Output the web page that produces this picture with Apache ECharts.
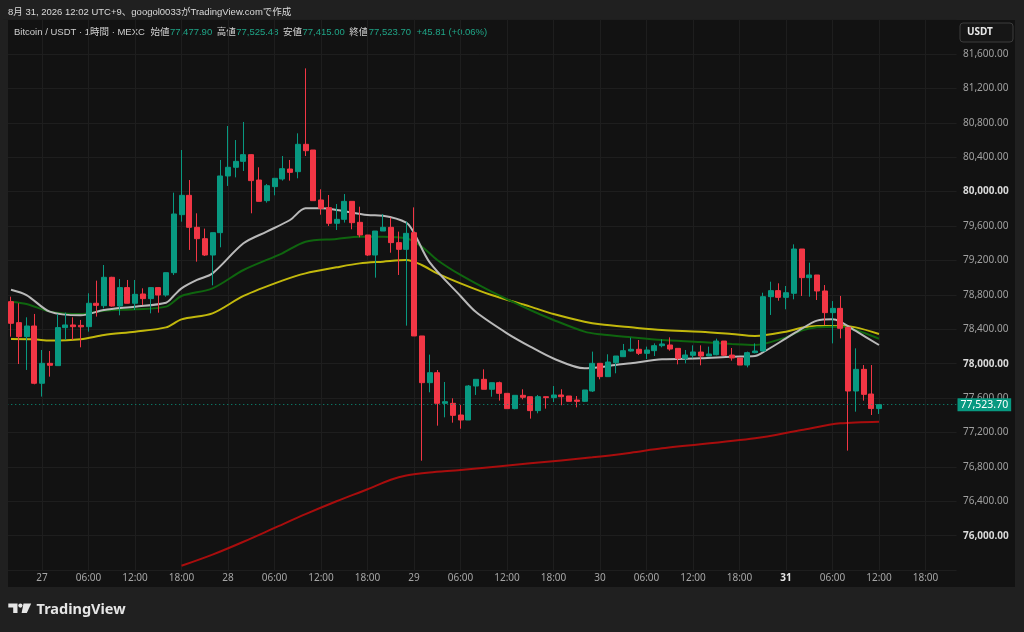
<!DOCTYPE html>
<html><head><meta charset="utf-8">
<script src="https://cdn.jsdelivr.net/npm/echarts@6/dist/echarts.min.js"></script>
<style>html,body{margin:0;padding:0;background:#202020;}#c{width:1024px;height:632px;}</style>
</head><body><div id="c"></div>
<script>
// ---- time axis: hourly categories, first slot = 26日 19:00, last = 31日 22:00
const firstDay = 26, firstHour = 19, slotCount = 124;
const categories = [];
for (let i = 0; i < slotCount; i++) {
  const t = firstHour + i;
  const d = firstDay + Math.floor(t / 24);
  const hr = t % 24;
  categories.push(d + ' ' + String(hr).padStart(2, '0') + ':00');
}
const candleStart = '26 20:00';

// ---- hourly OHLC, from 26 20:00 to 31 12:00
const opens = [78721,78477,78314,78438,77772,78004,77977,78419,78450,78445,78430,78702,78674,79004,78670,78884,78702,78810,78756,78884,78798,79058,79732,79957,79585,79453,79263,79523,80182,80283,80352,80430,80135,79895,80058,80147,80263,80232,80550,80484,79903,79814,79632,79678,79887,79643,79496,79263,79542,79585,79407,79329,79523,78322,77779,77895,77539,77539,77403,77345,77740,77818,77702,77779,77655,77477,77632,77616,77454,77616,77605,77636,77624,77577,77562,77682,78004,77849,78011,78081,78147,78167,78120,78151,78209,78217,78178,78062,78097,78135,78089,78104,78263,78100,78066,77984,78128,78147,78779,78849,78771,78818,79333,79000,79031,78845,78593,78643,78422,77682,77934,77647,77477.90];
const highs = [78779,78702,78539,78578,78159,78147,78578,78593,78539,78508,78818,78965,79147,79010,78984,78973,78973,78876,78884,78890,79058,79988,80484,80135,79748,79570,79523,80368,80763,80600,80810,80435,80283,80089,80155,80414,80368,80678,81433,80484,80027,79961,79856,79972,79887,79825,79496,79542,79740,79697,79535,79651,79817,78322,78105,77926,77787,77597,77520,77752,77818,77934,77779,77791,77655,77632,77702,77616,77636,77616,77740,77702,77624,77624,77694,78140,78004,78109,78089,78229,78302,78275,78198,78236,78283,78306,78178,78159,78213,78213,78198,78291,78263,78182,78066,78140,78236,78825,78953,78934,78903,79387,79333,79174,79031,78914,78728,78787,78422,78178,77984,77984,77525.48];
const lows = [78314,77996,77927,77760,77617,77849,77977,78275,78275,78190,78372,78547,78643,78663,78562,78700,78624,78682,78585,78593,78779,79031,79651,79322,79186,79252,78911,79353,80066,80166,80240,79748,79887,79872,79957,80128,80128,80155,80414,79895,79732,79601,79554,79640,79562,79469,79252,79000,79542,79290,79031,78442,78322,76872,77667,77279,77376,77314,77244,77345,77636,77702,77616,77570,77477,77470,77585,77361,77423,77477,77554,77516,77562,77492,77554,77671,77818,77849,77888,78081,78140,78101,78054,78089,78190,78151,77992,78004,78062,77981,78089,78097,78089,78035,77984,77957,78120,78140,78566,78732,78632,78748,78787,78779,78740,78449,78236,78294,76989,77442,77570,77403,77415.00];
const closes = [78469,78314,78438,77772,78004,77981,78419,78450,78430,78428,78702,78678,79004,78670,78884,78702,78806,78756,78884,78798,79058,79740,79957,79585,79453,79263,79523,80182,80283,80352,80430,80128,79887,80069,80155,80267,80224,80550,80476,79895,79806,79632,79678,79887,79639,79496,79263,79542,79585,79407,79329,79515,78322,77779,77895,77539,77558,77399,77345,77740,77818,77702,77779,77655,77477,77632,77609,77454,77616,77605,77636,77616,77562,77562,77694,78004,77849,78019,78089,78151,78167,78120,78159,78209,78229,78170,78062,78101,78136,78089,78112,78263,78097,78066,77984,78128,78147,78779,78849,78771,78825,79333,79000,79031,78845,78593,78643,78411,77682,77934,77643,77478,77523.70];

// ---- moving-average readings: [hour offset from 27 00:00, price]
const maWhite = [[-4,78860],[-2,78798],[1,78605],[5,78562],[8,78624],[12,78663],[16,78709],[17,78790],[18,78876],[20,78973],[22,79050],[26,79399],[29,79535],[32,79670],[34,79806],[36,79806],[38,79787],[42,79728],[44,79720],[47,79640],[48,79520],[50,79180],[54,78787],[56,78600],[60,78353],[63,78198],[66,78060],[70,77946],[72,77960],[74,77985],[76,78004],[80,78050],[85,78062],[89,78081],[92,78089],[93,78130],[96,78294],[98,78405],[100,78500],[102,78515],[103,78488],[105,78380],[108,78217]];
const maGreen = [[-4,78721],[-2,78694],[1,78605],[5,78577],[8,78616],[12,78632],[16,78663],[18,78787],[22,78876],[26,79089],[31,79283],[34,79418],[38,79450],[41,79476],[44,79476],[47,79457],[49,79360],[51,79205],[54,79031],[58,78837],[63,78624],[66,78508],[70,78372],[72,78341],[76,78306],[80,78275],[85,78252],[89,78229],[92,78217],[96,78306],[98,78384],[100,78422],[103,78430],[105,78391],[108,78290]];
const maYellow = [[-4,78287],[-1,78283],[1,78268],[5,78283],[8,78333],[12,78372],[16,78422],[18,78515],[22,78585],[26,78787],[31,78965],[34,79050],[38,79120],[41,79166],[44,79186],[47,79205],[49,79147],[51,79050],[54,78934],[58,78798],[63,78663],[66,78577],[70,78488],[72,78457],[76,78422],[80,78391],[85,78372],[89,78345],[92,78322],[96,78372],[98,78418],[100,78438],[103,78438],[105,78422],[108,78345]];
const maRed = [[18,75650],[22,75780],[26,75930],[30,76090],[34,76250],[38,76400],[42,76540],[45,76650],[47,76700],[50,76735],[54,76764],[63,76841],[71,76911],[76,76965],[80,77016],[92,77132],[98,77229],[103,77306],[108,77326]];

const lastPrice = 77523.70;
const symbolText = 'Bitcoin / USDT · 1時間 · MEXC';
const ohlcLabels = ['始値', '高値', '安値', '終値'];
const ohlcValues = ['77,477.90', '77,525.48', '77,415.00', '77,523.70'];
const changeText = '+45.81 (+0.06%)';
const headerText = '8月 31, 2026 12:02 UTC+9、googol0033がTradingView.comで作成';

// ---- build
const startIdx = categories.indexOf(candleStart);
const zeroIdx = categories.indexOf('27 00:00');
const candleData = categories.map((c, i) => {
  const k = i - startIdx;
  if (k < 0 || k >= opens.length) return '-';
  return [opens[k], closes[k], lows[k], highs[k]];
});
const toLine = arr => arr.map(p => [p[0] + zeroIdx, p[1]]);
const fmt = v => v.toLocaleString('en-US', {minimumFractionDigits: 2, maximumFractionDigits: 2});
const hourOf = c => parseInt(c.split(' ')[1], 10);
const showTick = (i, c) => hourOf(c) % 6 === 0;

const FONT = '"Noto Sans", "Noto Sans CJK JP", sans-serif';
const UIFONT = '"Liberation Sans", "Noto Sans CJK JP", sans-serif';
const LEGEND_FONT = '9.5px ' + UIFONT;
const chart = echarts.init(document.getElementById('c'));

// measure legend pieces so they flow without overlapping
const mctx = document.createElement('canvas').getContext('2d');
mctx.font = LEGEND_FONT;
const tw = s => mctx.measureText(s).width;

const graphics = [
  {type: 'rect', shape: {x: 8, y: 20, width: 1007, height: 567}, style: {fill: '#121212'}, z: -100, silent: true},
  {type: 'rect', shape: {x: 0, y: 20, width: 8, height: 567}, style: {fill: '#202020'}, z: 100, silent: true},
  {type: 'text', x: 8, y: 12, style: {text: headerText, fill: '#dadada', font: '9.5px ' + UIFONT, textVerticalAlign: 'middle'}},
  {type: 'rect', shape: {x: 960, y: 23, width: 53, height: 19, r: 3}, style: {fill: '#161616', stroke: '#3c3c3c', lineWidth: 1}, z: 50},
  {type: 'text', x: 967, y: 32.5, z: 51, style: {text: 'USDT', fill: '#e8e8e8', font: 'bold 10px ' + FONT, textVerticalAlign: 'middle'}},
  // logo
  {type: 'polygon', shape: {points: [[8.3,603.5],[17.5,603.5],[17.5,613],[13.2,613],[13.2,607.6],[8.3,607.6]]}, style: {fill: '#e6e6e6'}},
  {type: 'circle', shape: {cx: 20.4, cy: 605.6, r: 2.1}, style: {fill: '#e6e6e6'}},
  {type: 'polygon', shape: {points: [[23.5,603.5],[31.2,603.5],[26.8,613],[21.6,613]]}, style: {fill: '#e6e6e6'}},
  {type: 'text', x: 36.5, y: 609.5, style: {text: 'TradingView', fill: '#e6e6e6', font: 'bold 14.5px ' + FONT, textVerticalAlign: 'middle'}}
];
let lx = 14;
const addLegend = (s, color) => {
  graphics.push({type: 'text', x: lx, y: 32, style: {text: s, fill: color, font: LEGEND_FONT, textVerticalAlign: 'middle'}});
  lx += tw(s);
};
addLegend(symbolText, '#cfcfcf'); lx += 5.5;
ohlcLabels.forEach((l, i) => { addLegend(l, '#cfcfcf'); lx += 0.5; addLegend(ohlcValues[i], '#1fa587'); lx += 4.5; });
lx += 1; addLegend(changeText, '#1fa587');

chart.setOption({
  backgroundColor: '#202020',
  animation: false,
  textStyle: {fontFamily: FONT},
  grid: {left: 3.25, right: 1024 - 956.5, top: 19.6, bottom: 632 - 570.1},
  xAxis: {
    type: 'category', data: categories, boundaryGap: false,
    axisLine: {show: false}, axisTick: {show: false},
    axisLabel: {
      interval: showTick, margin: 3, fontSize: 10, color: '#a6a6a6',
      formatter: c => {
        const [d, t] = c.split(' ');
        if (t === '00:00') return d === '31' ? '{b|' + d + '}' : d;
        return t;
      },
      rich: {b: {fontWeight: 'bold', color: '#e6e6e6', fontSize: 10}}
    },
    splitLine: {show: true, interval: showTick, lineStyle: {color: '#1e1e1e', width: 1}}
  },
  yAxis: {
    type: 'value', position: 'right', min: 75600, max: 82000, interval: 400, scale: true,
    axisLine: {show: false}, axisTick: {show: false},
    axisLabel: {
      showMinLabel: false, showMaxLabel: false, margin: 6.5, fontSize: 10, color: '#a0a0a0',
      formatter: v => (v % 2000 === 0 ? '{b|' + fmt(v) + '}' : fmt(v)),
      rich: {b: {fontWeight: 'bold', color: '#dadada', fontSize: 10}}
    },
    splitLine: {show: true, lineStyle: {color: '#1e1e1e', width: 1}}
  },
  graphic: graphics,
  series: [
    {type: 'line', data: toLine(maRed), smooth: 0.3, showSymbol: false, lineStyle: {color: '#a80d0d', width: 2}, z: 1},
    {type: 'line', data: toLine(maYellow), smooth: 0.3, showSymbol: false, lineStyle: {color: '#c2b80c', width: 2}, z: 1},
    {type: 'line', data: toLine(maGreen), smooth: 0.3, showSymbol: false, lineStyle: {color: '#0f650f', width: 2}, z: 1},
    {type: 'line', data: toLine(maWhite), smooth: 0.3, showSymbol: false, lineStyle: {color: '#b9b9b9', width: 2}, z: 1},
    {
      type: 'candlestick', data: candleData, barWidth: 5.5, z: 3,
      itemStyle: {color: '#089981', color0: '#f23645', borderColor: '#089981', borderColor0: '#f23645', borderWidth: 1},
      markLine: {
        silent: true, symbol: 'none', animation: false,
        data: [{yAxis: lastPrice}],
        lineStyle: {type: [1, 3], color: '#089981', width: 1},
        label: {position: 'end', distance: 1, formatter: fmt(lastPrice), backgroundColor: '#089981', color: '#ffffff', fontSize: 10.5, padding: [1.5, 3, 1, 3]}
      }
    }
  ]
});
</script></body></html>
